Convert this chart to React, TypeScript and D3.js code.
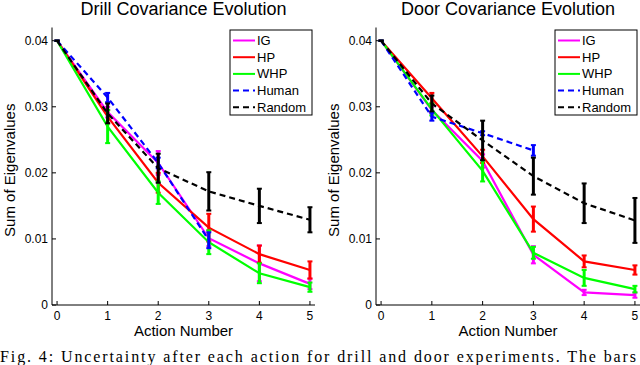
import React from 'react'
import * as d3 from 'd3'

// action numbers on the x axis
const actions = [0, 1, 2, 3, 4, 5]
const xTicks = [0, 1, 2, 3, 4, 5]
const yTicks = [0, 0.01, 0.02, 0.03, 0.04]
const yTickLabels = ['0', '0.01', '0.02', '0.03', '0.04']

const seriesNames = ['IG', 'HP', 'WHP', 'Human', 'Random']
const seriesColors = ['#ff00ff', '#ff0000', '#00ff00', '#0000ff', '#000000']
const seriesDashed = [false, false, false, true, true]

// drill experiment
const drillIG = [0.04, 0.0292, 0.0215, 0.0101, 0.0063, 0.0032]
const drillIGErr = [0, 0.0008, 0.0018, 0.0012, 0.0027, 0.0008]
const drillHP = [0.04, 0.0285, 0.0185, 0.0117, 0.0077, 0.0053]
const drillHPErr = [0, 0.001, 0.0015, 0.0021, 0.0013, 0.0013]
const drillWHP = [0.04, 0.027, 0.017, 0.0095, 0.0048, 0.0027]
const drillWHPErr = [0, 0.0025, 0.0017, 0.0018, 0.0015, 0.0007]
const drillHuman = [0.04, 0.0314, 0.0215, 0.0098]
const drillHumanErr = [0, 0.0007, 0.0008, 0.0012]
const drillRandom = [0.04, 0.029, 0.0207, 0.0172, 0.015, 0.0129]
const drillRandomErr = [0, 0.0015, 0.0022, 0.0029, 0.0026, 0.0019]

// door experiment
const doorIG = [0.04, 0.0295, 0.0218, 0.0076, 0.0019, 0.0015]
const doorIGErr = [0, 0.0005, 0.001, 0.0013, 0.0004, 0.0004]
const doorHP = [0.04, 0.0313, 0.0225, 0.013, 0.0066, 0.0053]
const doorHPErr = [0, 0.0008, 0.001, 0.0019, 0.0009, 0.0007]
const doorWHP = [0.04, 0.0296, 0.0203, 0.0079, 0.0041, 0.0024]
const doorWHPErr = [0, 0.0009, 0.0016, 0.0009, 0.0012, 0.0005]
const doorHuman = [0.04, 0.0285, 0.026, 0.0234]
const doorHumanErr = [0, 0.0006, 0.0003, 0.0008]
const doorRandom = [0.04, 0.0305, 0.0249, 0.0195, 0.0154, 0.0128]
const doorRandomErr = [0, 0.0012, 0.003, 0.0028, 0.003, 0.0034]

const drillValues = [drillIG, drillHP, drillWHP, drillHuman, drillRandom]
const drillErrors = [drillIGErr, drillHPErr, drillWHPErr, drillHumanErr, drillRandomErr]
const doorValues = [doorIG, doorHP, doorWHP, doorHuman, doorRandom]
const doorErrors = [doorIGErr, doorHPErr, doorWHPErr, doorHumanErr, doorRandomErr]

const font = '"Liberation Sans", Arial, Helvetica, sans-serif'

function Panel({ title, values, errors, left, right }) {
  const x = d3.scaleLinear().domain([-0.1, 5.1]).range([left, right])
  const y = d3.scaleLinear().domain([0, 0.042]).range([305, 27.5])
  const line = d3.line<number>()
    .x((v, i) => x(actions[i]))
    .y(v => y(v))
  const midX = (x(0) + x(5)) / 2
  const legX = right - 85
  const legY = 30

  return (
    <g>
      <text x={midX} y={15} fontSize={18} textAnchor="middle" fontFamily={font}>{title}</text>
      <text transform={`translate(${left - 37},${(y(0) + y(0.042)) / 2 + 4}) rotate(-90)`}
        fontSize={15} textAnchor="middle" fontFamily={font}>Sum of Eigenvalues</text>
      <text x={midX} y={336} fontSize={15} textAnchor="middle" fontFamily={font}>Action Number</text>

      {/* axes */}
      <line x1={left} x2={left} y1={y(0.042)} y2={y(0)} stroke="#000" strokeWidth={1} />
      <line x1={left} x2={right} y1={y(0)} y2={y(0)} stroke="#000" strokeWidth={1} />
      {xTicks.map(t => (
        <g key={'x' + t}>
          <line x1={x(t)} x2={x(t)} y1={y(0)} y2={y(0) - 4} stroke="#000" />
          <text x={x(t)} y={320} fontSize={12} textAnchor="middle" fontFamily={font}>{t}</text>
        </g>
      ))}
      {yTicks.map((t, i) => (
        <g key={'y' + t}>
          <line x1={left} x2={left + 4} y1={y(t)} y2={y(t)} stroke="#000" />
          <text x={left - 4} y={y(t) + 4} fontSize={12} textAnchor="end" fontFamily={font}>{yTickLabels[i]}</text>
        </g>
      ))}

      {/* series */}
      {values.map((vals, s) => (
        <g key={'s' + s}>
          <path d={line(vals)} fill="none" stroke={seriesColors[s]} strokeWidth={2.2}
            strokeDasharray={seriesDashed[s] ? '6,4' : undefined} />
          {vals.map((v, i) => {
            const e = errors[s][i]
            const cx = x(actions[i])
            return (
              <g key={i} stroke={seriesColors[s]} strokeWidth={3}>
                <line x1={cx} x2={cx} y1={y(v - e)} y2={y(v + e)} />
                <line x1={cx - 2.5} x2={cx + 2.5} y1={y(v - e)} y2={y(v - e)} strokeWidth={2} />
                <line x1={cx - 2.5} x2={cx + 2.5} y1={y(v + e)} y2={y(v + e)} strokeWidth={2} />
              </g>
            )
          })}
        </g>
      ))}

      {/* legend */}
      <rect x={legX} y={legY} width={82} height={85} fill="#fff" stroke="#000" strokeWidth={1} />
      {seriesNames.map((n, i) => {
        const ly = legY + 10.5 + i * 16.7
        return (
          <g key={n}>
            <line x1={legX + 3} x2={legX + 25} y1={ly} y2={ly} stroke={seriesColors[i]}
              strokeWidth={2} strokeDasharray={seriesDashed[i] ? '6,4' : undefined} />
            <text x={legX + 27} y={ly + 4.5} fontSize={13} fontFamily={font}>{n}</text>
          </g>
        )
      })}
    </g>
  )
}

export default function App() {
  return (
    <svg width={640} height={365} style={{ position: 'absolute', left: 0, top: 0, background: '#fff' }}>
      <rect x={0} y={0} width={640} height={365} fill="#fff" />
      <Panel title="Drill Covariance Evolution" values={drillValues} errors={drillErrors} left={52} right={315} />
      <Panel title="Door Covariance Evolution" values={doorValues} errors={doorErrors} left={376} right={640} />
      <text x={0} y={362} fontSize={16} textLength={636} lengthAdjust="spacing"
        fontFamily='"Liberation Serif", "Times New Roman", serif'>
        Fig. 4: Uncertainty after each action for drill and door experiments. The bars
      </text>
    </svg>
  )
}
